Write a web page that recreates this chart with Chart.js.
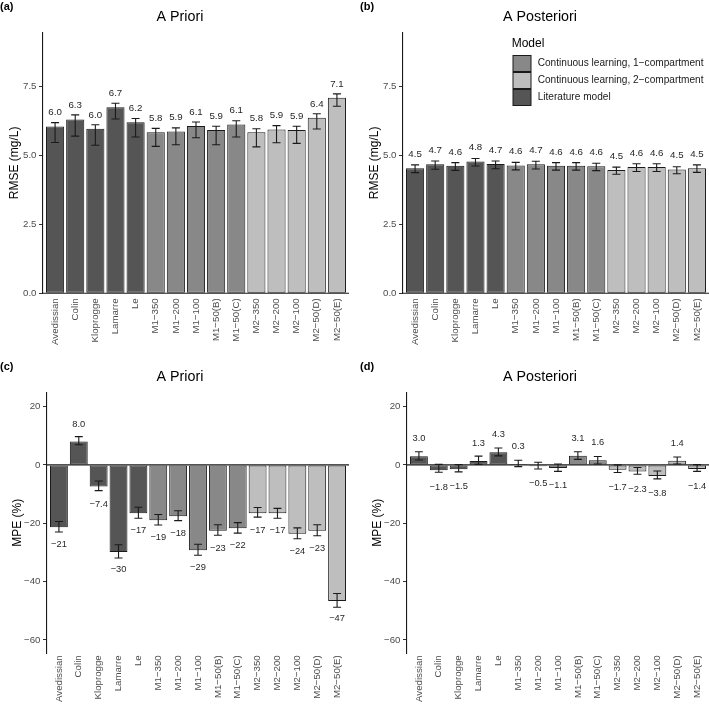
<!DOCTYPE html>
<html><head><meta charset="utf-8">
<script src="https://cdn.jsdelivr.net/npm/chart.js@4.4.1/dist/chart.umd.min.js"></script>
<style>
html,body{margin:0;padding:0;background:#fff;overflow:hidden;}
#wrap{position:relative;width:709px;height:707px;overflow:hidden;background:#fff;}
canvas{position:absolute;}
</style></head><body>
<div id="wrap">
<canvas id="ca" width="360" height="360" style="left:0;top:0;width:360px;height:360px"></canvas>
<canvas id="cb" width="360" height="360" style="left:360px;top:0;width:360px;height:360px"></canvas>
<canvas id="cc" width="360" height="360" style="left:0;top:360px;width:360px;height:360px"></canvas>
<canvas id="cd" width="360" height="360" style="left:360px;top:360px;width:360px;height:360px"></canvas>
</div>
<script>
// ---------------- data ----------------
const categories = ['Avedissian','Colin','Kloprogge','Lamarre','Le','M1\u2212350','M1\u2212200','M1\u2212100','M1\u221250(B)','M1\u221250(C)','M2\u2212350','M2\u2212200','M2\u2212100','M2\u221250(D)','M2\u221250(E)'];
const LIT = 'Literature model', C1 = 'Continuous learning, 1\u2212compartment', C2 = 'Continuous learning, 2\u2212compartment';
const modelGroup = [LIT,LIT,LIT,LIT,LIT,C1,C1,C1,C1,C1,C2,C2,C2,C2,C2];
const legendOrder = [C1, C2, LIT];

const rmsePriori     = [6.04, 6.29, 5.96, 6.74, 6.19, 5.83, 5.86, 6.06, 5.91, 6.11, 5.83, 5.93, 5.91, 6.36, 7.08];
const rmsePrioriLow  = [5.46, 5.69, 5.36, 6.31, 5.66, 5.32, 5.38, 5.63, 5.38, 5.66, 5.30, 5.45, 5.43, 5.95, 6.77];
const rmsePrioriHigh = [6.18, 6.46, 6.10, 6.88, 6.33, 5.97, 5.99, 6.20, 6.05, 6.25, 5.96, 6.07, 6.05, 6.50, 7.22];

const rmsePost     = [4.53, 4.67, 4.62, 4.77, 4.68, 4.63, 4.67, 4.62, 4.62, 4.60, 4.46, 4.57, 4.57, 4.48, 4.53];
const rmsePostLow  = [4.37, 4.49, 4.45, 4.61, 4.51, 4.47, 4.50, 4.46, 4.46, 4.44, 4.31, 4.41, 4.41, 4.33, 4.38];
const rmsePostHigh = [4.65, 4.79, 4.73, 4.88, 4.79, 4.74, 4.78, 4.73, 4.73, 4.71, 4.57, 4.69, 4.69, 4.58, 4.65];

const mpePriori     = [-21.4, 8.0, -7.4, -29.9, -16.6, -19.0, -17.6, -29.3, -22.6, -21.7, -16.6, -16.6, -23.6, -22.6, -46.7];
const mpePrioriLow  = [-23.0, 6.9, -8.8, -31.9, -18.3, -20.6, -19.1, -31.0, -24.1, -23.4, -17.9, -18.3, -25.3, -24.3, -48.8];
const mpePrioriHigh = [-19.4, 9.7, -5.5, -27.4, -14.5, -17.0, -15.7, -27.2, -20.5, -19.8, -14.6, -14.9, -21.6, -20.5, -44.1];

const mpePost     = [3.0, -1.8, -1.5, 1.3, 4.3, 0.3, -0.5, -1.1, 3.1, 1.6, -1.7, -2.3, -3.8, 1.4, -1.4];
const mpePostLow  = [1.7, -2.5, -2.4, 0.2, 3.1, -0.6, -1.4, -2.2, 1.9, 0.3, -2.6, -3.2, -4.8, 0.3, -2.2];
const mpePostHigh = [4.5, 0.2, 0.1, 3.0, 5.8, 1.6, 0.9, 0.3, 4.5, 2.9, 0.0, -0.9, -2.1, 2.7, 0.1];

const rmseTicks = [0, 2.5, 5, 7.5];
const mpeTicks = [-60, -40, -20, 0, 20];

// ---------------- styling ----------------
const FONT = '"Liberation Sans", Arial, Helvetica, sans-serif';
const groupColors = {};
groupColors[LIT] = '#555555';
groupColors[C1] = '#888888';
groupColors[C2] = '#bebebe';
const INK = '#1a1a1a';
const minus = s => String(s).replace(/-/g, '\u2212');

const panelCfg = {};

const panelPlugin = {
  id: 'panelPlugin',
  afterDatasetsDraw(chart) {
    const o = panelCfg[chart.canvas.id];
    const ctx = chart.ctx, xs = chart.scales.x, ys = chart.scales.y, ca = chart.chartArea;
    const cw = xs.getPixelForValue(1) - xs.getPixelForValue(0);
    ctx.save();
    // zero reference line
    const y0 = ys.getPixelForValue(0);
    ctx.strokeStyle = INK; ctx.lineWidth = 1.1;
    ctx.beginPath(); ctx.moveTo(ca.left, y0); ctx.lineTo(ca.right, y0); ctx.stroke();
    // error bars
    ctx.lineWidth = 1.1; ctx.strokeStyle = INK;
    o.values.forEach((v, i) => {
      const x = xs.getPixelForValue(i);
      const yl = ys.getPixelForValue(o.low[i]), yh = ys.getPixelForValue(o.high[i]);
      const h = cw * 0.2;
      ctx.beginPath();
      ctx.moveTo(x, yl); ctx.lineTo(x, yh);
      ctx.moveTo(x - h, yl); ctx.lineTo(x + h, yl);
      ctx.moveTo(x - h, yh); ctx.lineTo(x + h, yh);
      ctx.stroke();
    });
    // value labels
    ctx.fillStyle = '#262626';
    ctx.font = o.labelSize + 'px ' + FONT;
    ctx.textAlign = 'center'; ctx.textBaseline = 'middle';
    o.values.forEach((v, i) => {
      const yv = v >= 0 ? v + o.labelOffset : v - o.labelOffset;
      ctx.fillText(o.fmt(v), xs.getPixelForValue(i), ys.getPixelForValue(yv));
    });
    ctx.restore();
  },
  afterDraw(chart) {
    const o = panelCfg[chart.canvas.id];
    const ctx = chart.ctx;
    ctx.save();
    ctx.fillStyle = '#000';
    ctx.font = 'bold 11px ' + FONT;
    ctx.textAlign = 'left'; ctx.textBaseline = 'middle';
    ctx.fillText(o.tag, 0, 7);
    if (o.legend) {
      ctx.font = '12px ' + FONT;
      ctx.fillText('Model', 151.7, 43.5);
      ctx.font = '10.1px ' + FONT;
      legendOrder.forEach((g, k) => {
        const top = 55 + k * 17;
        ctx.fillStyle = groupColors[g];
        ctx.fillRect(153, top + 0.5, 18, 16);
        ctx.strokeStyle = INK; ctx.lineWidth = 1;
        ctx.strokeRect(153, top + 0.5, 18, 16);
        ctx.fillStyle = INK;
        ctx.fillText(g, 177.7, top + 8.5);
      });
    }
    ctx.restore();
  }
};

function makeChart(id, c) {
  panelCfg[id] = c;
  const tickFmt = c.tickFmt;
  return new Chart(document.getElementById(id), {
    type: 'bar',
    data: {
      datasets: [{
        data: c.values.map((v, i) => ({ x: i, y: v })),
        backgroundColor: modelGroup.map(g => groupColors[g]),
        borderColor: INK, borderWidth: 1, borderSkipped: false,
        barPercentage: 0.9, categoryPercentage: 1.0
      }]
    },
    options: {
      responsive: false, animation: false, devicePixelRatio: 1,
      layout: { padding: 0 },
      events: [],
      plugins: {
        legend: { display: false }, tooltip: { enabled: false },
        title: { display: true, text: c.title, color: '#000',
          font: { family: FONT, size: 14.3, weight: 'normal', lineHeight: 1.2 },
          padding: { top: 8.7, bottom: 6.44 } }
      },
      scales: {
        x: {
          type: 'linear', min: -0.6, max: 14.6, offset: false,
          grid: { display: false, drawTicks: false, offset: false }, border: { display: false },
          afterBuildTicks: s => { s.ticks = categories.map((_, i) => ({ value: i })); },
          afterFit: s => { s.height = 66.7; },
          ticks: { autoSkip: false, minRotation: 90, maxRotation: 90, padding: c.xPad,
            font: { family: FONT, size: 9.7 }, color: '#4d4d4d',
            callback: v => categories[v] }
        },
        y: {
          type: 'linear', position: 'left', min: c.yMin, max: c.yMax,
          afterBuildTicks: s => { s.ticks = c.ticks.map(v => ({ value: v })); },
          afterFit: s => { s.width = c.yWidth; },
          grid: { display: true, drawOnChartArea: false, drawTicks: true, tickLength: 4, color: '#333', lineWidth: 1 },
          border: { display: true, color: INK, width: 1.1 },
          ticks: { padding: 2.5, font: { family: FONT, size: 9.7 }, color: '#4d4d4d', callback: v => tickFmt(v) },
          title: { display: true, text: c.yTitle, color: '#000', font: { family: FONT, size: 12 },
            padding: { top: c.yTitlePad, bottom: 0 } }
        },
        yR: {
          type: 'linear', position: 'right', display: true,
          grid: { display: false }, border: { display: false }, ticks: { display: false },
          afterFit: s => { s.width = 11; }
        }
      }
    },
    plugins: [panelPlugin]
  });
}

const rmseFmt = v => v.toFixed(1);
const mpeFmt = v => minus(Math.abs(v) >= 10 ? Math.round(v).toString() : v.toFixed(1));
const common = {
  rmse: { ticks: rmseTicks, yMin: 0, yMax: 9.45, yTitle: 'RMSE (mg/L)', yWidth: 43, yTitlePad: 7.8, xPad: 5,
          labelOffset: 0.5, labelSize: 9.7, fmt: rmseFmt, tickFmt: v => v.toFixed(1) },
  mpe:  { ticks: mpeTicks, yMin: -64.6, yMax: 24.9, yTitle: 'MPE (%)', yWidth: 47, yTitlePad: 10.8, xPad: 2,
          labelOffset: 6, labelSize: 9.3, fmt: mpeFmt, tickFmt: v => minus(v) }
};

makeChart('ca', Object.assign({}, common.rmse, { values: rmsePriori, low: rmsePrioriLow, high: rmsePrioriHigh, title: 'A Priori', tag: '(a)' }));
makeChart('cb', Object.assign({}, common.rmse, { values: rmsePost, low: rmsePostLow, high: rmsePostHigh, title: 'A Posteriori', tag: '(b)', legend: true }));
makeChart('cc', Object.assign({}, common.mpe, { values: mpePriori, low: mpePrioriLow, high: mpePrioriHigh, title: 'A Priori', tag: '(c)' }));
makeChart('cd', Object.assign({}, common.mpe, { values: mpePost, low: mpePostLow, high: mpePostHigh, title: 'A Posteriori', tag: '(d)', fmt: v => minus(v.toFixed(1)) }));
</script>
</body></html>
